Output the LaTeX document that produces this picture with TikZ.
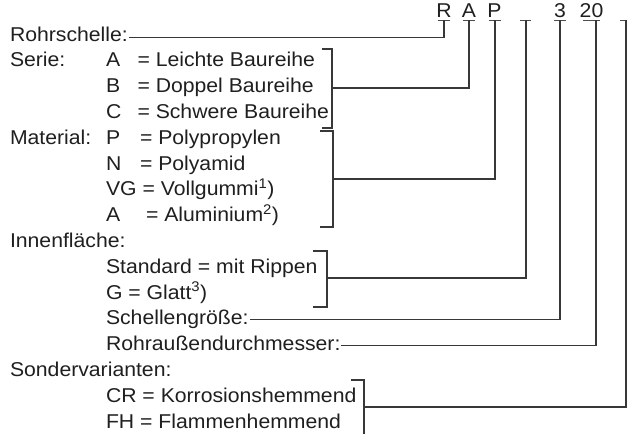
\documentclass[tikz,border=0pt]{standalone}
\usepackage{fontspec}
\setmainfont{Liberation Sans}[FakeStretch=1.06]
\usetikzlibrary{calc}
\newcommand\fs{\fontsize{20}{24}\selectfont}
\begin{document}
\begin{tikzpicture}[x=1pt,y=-1pt,
  lbl/.style={anchor=base west,inner sep=0pt,outer sep=0pt,font=\fs,text=black!88},
  code/.style={anchor=base,inner sep=0pt,outer sep=0pt,font=\fs,text=black!88},
  ln/.style={draw=black!78,line width=1.1pt},
  ul/.style={draw=black!70,line width=0.9pt}]
\useasboundingbox (0,0) rectangle (627,434);
% top code row
\node[code] (kR) at (444,17) {R};
\node[code] (kA) at (469,17) {A};
\node[code] (kP) at (494.5,17) {P};
\node[code] (k3) at (560,17) {3};
\node[code] (k20) at (591.5,17) {20};
\coordinate (uR) at (444,20);
\coordinate (uA) at (469,20);
\coordinate (uP) at (495,20);
\coordinate (uX) at (526,20);
\coordinate (u3) at (560,20);
\coordinate (u20) at (596,20);
\coordinate (uY) at (626,20);
\draw[ul] (438,20) -- (450,20) (463,20) -- (475,20) (488.5,20) -- (500.5,20)
  (520,20) -- (531,20) (554,20) -- (566,20) (583,20) -- (600,20) (620,20) -- (632,20);
% left texts
\node[lbl] (rohr) at (10,41) {Rohrschelle:};
\node[lbl] (serie) at (10,66.8) {Serie:};
\node[lbl] (sA) at (106,66.8) {A};
\node[lbl] (sAt) at (137.5,66.8) {= Leichte Baureihe};
\node[lbl] (sB) at (106,92.6) {B};
\node[lbl] (sBt) at (137.5,92.6) {= Doppel Baureihe};
\node[lbl] (sC) at (106,118.4) {C};
\node[lbl] (sCt) at (137.5,118.4) {= Schwere Baureihe};
\node[lbl] (mat) at (10,144.2) {Material:};
\node[lbl] (mP) at (106,144.2) {P};
\node[lbl] (mPt) at (140,144.2) {= Polypropylen};
\node[lbl] (mN) at (106,170) {N};
\node[lbl] (mNt) at (140,170) {= Polyamid};
\node[lbl] (mV) at (106,195.8) {VG = Vollgummi\textsuperscript{1})};
\node[lbl] (mA) at (106,221.6) {A};
\node[lbl] (mAt) at (146,221.6) {= Aluminium\textsuperscript{2})};
\node[lbl] (inn) at (10,247.4) {Innenfläche:};
\node[lbl] (iS) at (106,273.2) {Standard = mit Rippen};
\node[lbl] (iG) at (106,299) {G = Glatt\textsuperscript{3})};
\node[lbl] (sg) at (106,324.8) {Schellengröße:};
\node[lbl] (rd) at (106,350.6) {Rohraußendurchmesser:};
\node[lbl] (sv) at (10,376.4) {Sondervarianten:};
\node[lbl] (cr) at (106,402.2) {CR = Korrosionshemmend};
\node[lbl] (fh) at (106,428) {FH = Flammenhemmend};
% brackets
\coordinate (bS) at (332,88);
\coordinate (bM) at (333,179);
\coordinate (bI) at (327,278);
\coordinate (bV) at (364,407);
\draw[ln] (322,49) -- (332,49) -- (332,128) -- (322,128);
\draw[ln] (320,131) -- (333,131) -- (333,227) -- (320,227);
\draw[ln] (313,251) -- (327,251) -- (327,307) -- (313,307);
\draw[ln] (351,380) -- (364,380) -- (364,440);
% connectors
\draw[ln] (uR) |- ($(rohr.base east)+(1,-3.5)$);
\draw[ln] (uA) |- (bS);
\draw[ln] (uP) |- (bM);
\draw[ln] (uX) |- (bI);
\draw[ln] (u3) |- ($(sg.base east)+(1,-5)$);
\draw[ln] (u20) |- ($(rd.base east)+(1,-5)$);
\draw[ln] (uY) |- (bV);
\end{tikzpicture}
\end{document}
